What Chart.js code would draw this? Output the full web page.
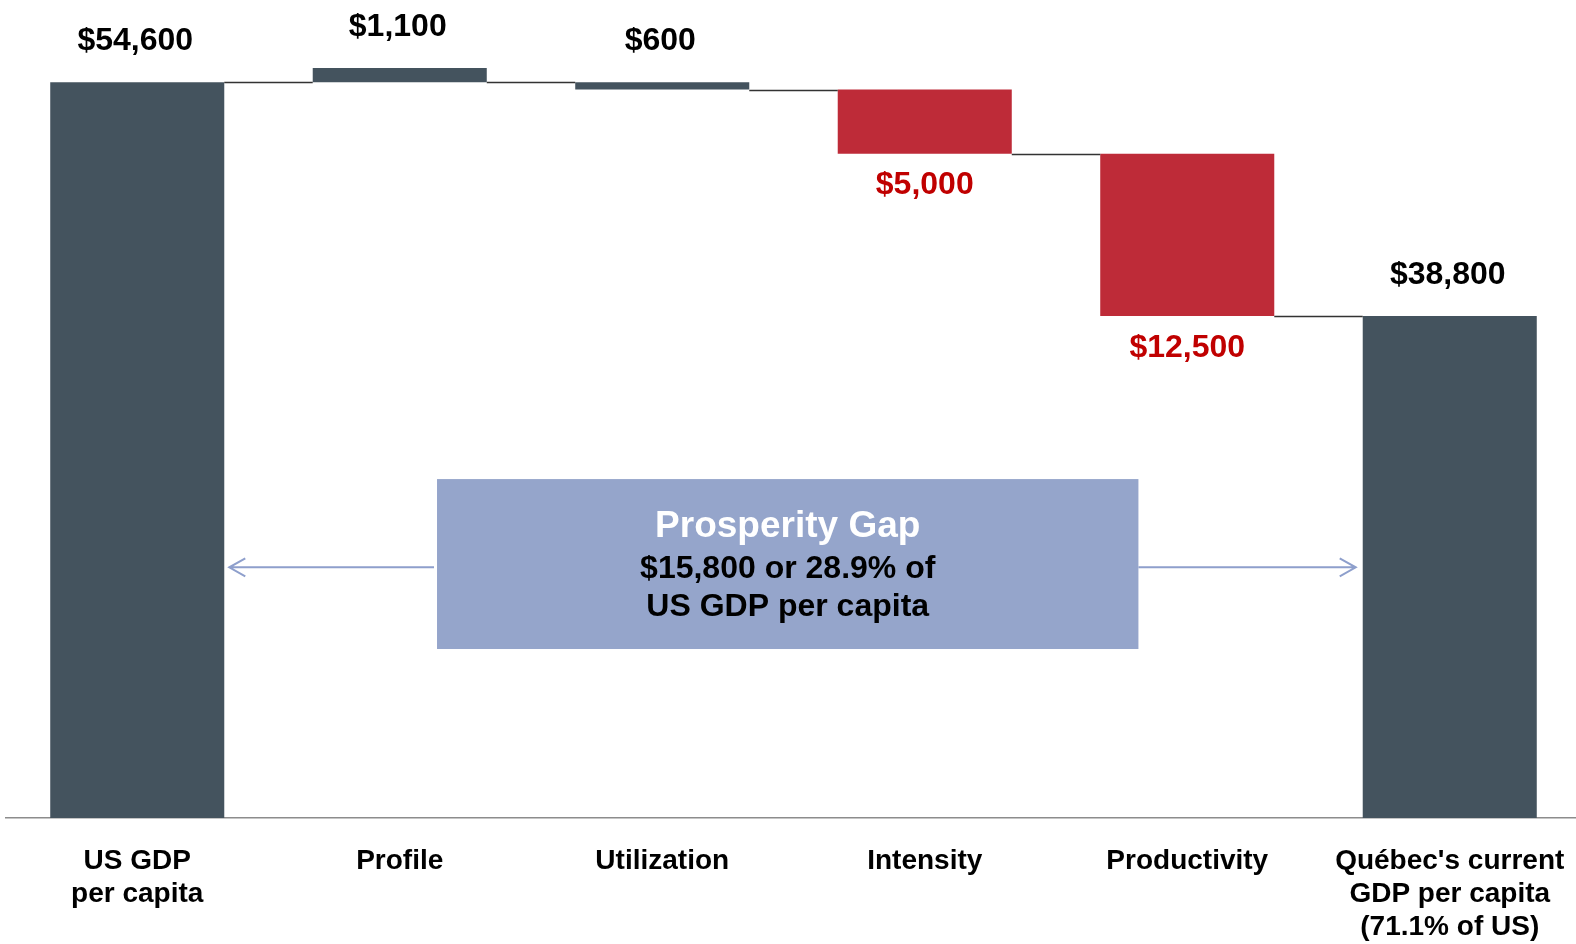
<!DOCTYPE html>
<html>
<head>
<meta charset="utf-8">
<script src="https://cdn.jsdelivr.net/npm/chart.js@4.4.1/dist/chart.umd.min.js"></script>
<style>
  html, body { margin: 0; padding: 0; background: #fff; overflow: hidden; }
  #wrap { width: 1581px; height: 944px; position: relative; }
</style>
</head>
<body>
<div id="wrap"><canvas id="chart1"></canvas></div>
<script>
// categories (multi-line labels as arrays)
var categories = [
  ["US GDP", "per capita"],
  "Profile",
  "Utilization",
  "Intensity",
  "Productivity",
  ["Québec's current", "GDP per capita", "(71.1% of US)"]
];
// labelled amounts, negative ones lower GDP per capita
var amounts = [54600, 1100, 600, -5000, -12500, 38800];
// floating bar extents as they are drawn in the picture
var barLow = [0, 54600, 54050, 49300, 37250, 0];
var barHigh = [54600, 55650, 54600, 54050, 49300, 37250];
// gap callout text
var gapTitle = "Prosperity Gap";
var gapLines = ["$15,800 or 28.9% of", "US GDP per capita"];

var FONT = "'Liberation Sans', Arial, sans-serif";
var DARK = "#44535e";
var RED = "#be2b38";
var BOX = "#95a5cb";

function money(v) {
  return "$" + Math.abs(v).toLocaleString("en-US");
}

var waterfallExtras = {
  id: "waterfallExtras",
  afterDatasetsDraw: function (chart) {
    var ctx = chart.ctx;
    var x = chart.scales.x;
    var y = chart.scales.y;
    var bars = chart.getDatasetMeta(0).data;

    ctx.save();

    // connector lines between neighbouring bars
    ctx.strokeStyle = "#333";
    ctx.lineWidth = 1.5;
    for (var i = 0; i < bars.length - 1; i++) {
      var next = i + 1;
      var level = (barHigh[next] === barLow[i] || barHigh[next] === barHigh[i]) ? barHigh[next] : barLow[next];
      var py = Math.round(y.getPixelForValue(level)) + 0.5;
      ctx.beginPath();
      ctx.moveTo(bars[i].x + bars[i].width / 2, py);
      ctx.lineTo(bars[next].x - bars[next].width / 2, py);
      ctx.stroke();
    }

    // value labels
    ctx.font = "bold 32px " + FONT;
    ctx.textAlign = "center";
    ctx.textBaseline = "middle";
    amounts.forEach(function (v, i) {
      var b = bars[i];
      if (v < 0) {
        ctx.fillStyle = "#c00000";
        ctx.fillText(money(v), b.x, y.getPixelForValue(barLow[i]) + 32);
      } else {
        ctx.fillStyle = "#000";
        ctx.fillText(money(v), b.x - 2, y.getPixelForValue(barHigh[i]) - 41);
      }
    });

    // prosperity gap box
    var bx1 = x.getPixelForValue(1.142);
    var bx2 = x.getPixelForValue(3.814);
    var by1 = y.getPixelForValue(25150);
    var by2 = y.getPixelForValue(12540);
    ctx.fillStyle = BOX;
    ctx.fillRect(bx1, by1, bx2 - bx1, by2 - by1);

    var cx = (bx1 + bx2) / 2;
    ctx.fillStyle = "#fff";
    ctx.font = "bold 37px " + FONT;
    ctx.fillText(gapTitle, cx, by1 + 48);
    ctx.fillStyle = "#000";
    ctx.font = "bold 32px " + FONT;
    ctx.fillText(gapLines[0], cx, by1 + 90);
    ctx.fillText(gapLines[1], cx, by1 + 128);

    // arrows from the box to the two total bars
    var ay = y.getPixelForValue(18600);
    var leftTip = bars[0].x + bars[0].width / 2 + 5;
    var rightTip = bars[5].x - bars[5].width / 2 - 7;
    ctx.strokeStyle = "#8e9fcc";
    ctx.lineWidth = 2;
    ctx.beginPath();
    ctx.moveTo(bx1 - 3, ay);
    ctx.lineTo(leftTip, ay);
    ctx.moveTo(leftTip + 16, ay - 9);
    ctx.lineTo(leftTip, ay);
    ctx.lineTo(leftTip + 16, ay + 9);
    ctx.moveTo(bx2, ay);
    ctx.lineTo(rightTip, ay);
    ctx.moveTo(rightTip - 16, ay - 9);
    ctx.lineTo(rightTip, ay);
    ctx.lineTo(rightTip - 16, ay + 9);
    ctx.stroke();

    ctx.restore();
  }
};

var ctx = document.getElementById("chart1").getContext("2d");
var myChart = new Chart(ctx, {
  type: "bar",
  data: {
    labels: categories,
    datasets: [
      {
        label: "GDP per capita",
        data: barLow.map(function (lo, i) { return [lo, barHigh[i]]; }),
        backgroundColor: amounts.map(function (v) { return v < 0 ? RED : DARK; }),
        borderWidth: 0,
        barPercentage: 0.663,
        categoryPercentage: 1
      }
    ]
  },
  options: {
    responsive: true,
    maintainAspectRatio: false,
    animation: false,
    layout: {
      padding: { left: 6, right: 0, top: 0, bottom: 3 }
    },
    plugins: {
      legend: { display: false },
      tooltip: { enabled: false }
    },
    scales: {
      x: {
        afterFit: function (scale) {
          scale.height = 123;
          scale.paddingLeft = 0;
          scale.paddingRight = 0;
        },
        grid: { display: false, drawTicks: false },
        border: { display: true, color: "#8c8c8c", width: 1.5 },
        ticks: {
          color: "#000",
          padding: 27,
          maxRotation: 0,
          autoSkip: false,
          font: { family: FONT, size: 28, weight: "bold", lineHeight: 33 / 28 }
        }
      },
      y: {
        display: false,
        min: 0,
        max: 60700
      }
    }
  },
  plugins: [waterfallExtras]
});
</script>
</body>
</html>
